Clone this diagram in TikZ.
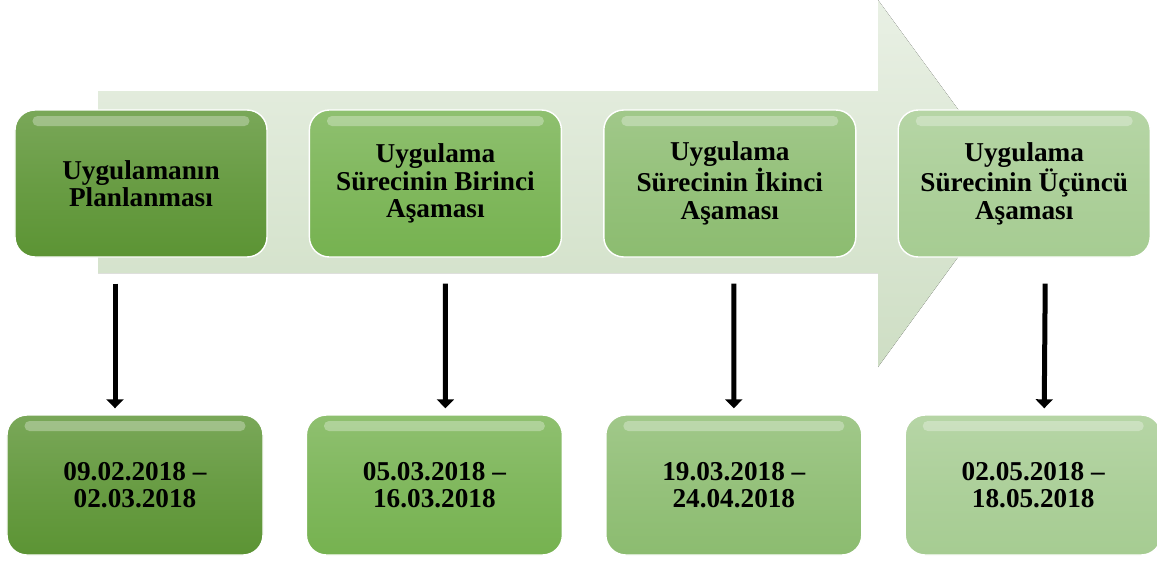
\documentclass[tikz,border=0pt]{standalone}
\usepackage{fontspec}
\setmainfont{Liberation Serif}
\usetikzlibrary{arrows.meta, positioning}

\definecolor{stepA}{RGB}{92,148,52}
\definecolor{stepB}{RGB}{118,178,80}
\definecolor{stepC}{RGB}{140,188,112}
\definecolor{stepD}{RGB}{166,204,146}
\definecolor{bigarrow}{RGB}{206,222,196}

\begin{document}
\begin{tikzpicture}[
    x=0.2mm, y=-0.2mm,
    node distance=0.82cm,
    phase/.style={rectangle, rounded corners=0.4cm, draw=white, line width=0.8pt,
        top color=#1!82!white, bottom color=#1, middle color=#1!92!white,
        minimum width=5.04cm, minimum height=2.94cm, align=center,
        font=\fontsize{15.5}{15.6}\selectfont\bfseries,
        path picture={\fill[white, opacity=0.3, rounded corners=0.1cm]
            ([shift={(0.35cm,-0.12cm)}]path picture bounding box.north west) rectangle
            ([shift={(-0.35cm,-0.32cm)}]path picture bounding box.north east);}},
    datebox/.style={phase=#1, minimum width=5.12cm, minimum height=2.8cm},
    arrow/.style={-{Triangle[width=0.34cm,length=0.18cm]}, line width=0.1cm}
]
\useasboundingbox (0,0) rectangle (1157,562);

% Big arrow behind
\fill[top color=bigarrow!45!white, bottom color=bigarrow]
    (98,91) -- (878,91) -- (878,0) -- (1012,183) -- (878,367) -- (878,273) -- (98,273) -- cycle;

% Nodes
\node[phase=stepA] (plan) at (141,183.5) {Uygulamanın\\Planlanması};
\node[phase=stepB, right=of plan] (first) {Uygulama\\Sürecinin Birinci\\Aşaması};
\node[phase=stepC, right=of first] (second) {Uygulama\\Sürecinin İkinci\\Aşaması};
\node[phase=stepD, right=of second] (third) {Uygulama\\Sürecinin Üçüncü\\Aşaması};

\node[datebox=stepA] (planDate) at (135,485) {09.02.2018 –\\02.03.2018};
\node[datebox=stepB, right=0.84cm of planDate] (firstDate) {05.03.2018 –\\16.03.2018};
\node[datebox=stepC, right=0.84cm of firstDate] (secondDate) {19.03.2018 –\\24.04.2018};
\node[datebox=stepD, right=0.84cm of secondDate] (thirdDate) {02.05.2018 –\\18.05.2018};

% Arrows
\draw[arrow] ([shift={(-26,26)}]plan.south) -- ([shift={(-20,-6)}]planDate.north);
\draw[arrow] ([shift={(10,26)}]first.south) -- ([shift={(11,-6)}]firstDate.north);
\draw[arrow] ([shift={(4,26)}]second.south) -- ([shift={(0,-6)}]secondDate.north);
\draw[arrow] ([shift={(21,26)}]third.south) -- ([shift={(11,-6)}]thirdDate.north);

\end{tikzpicture}
\end{document}
